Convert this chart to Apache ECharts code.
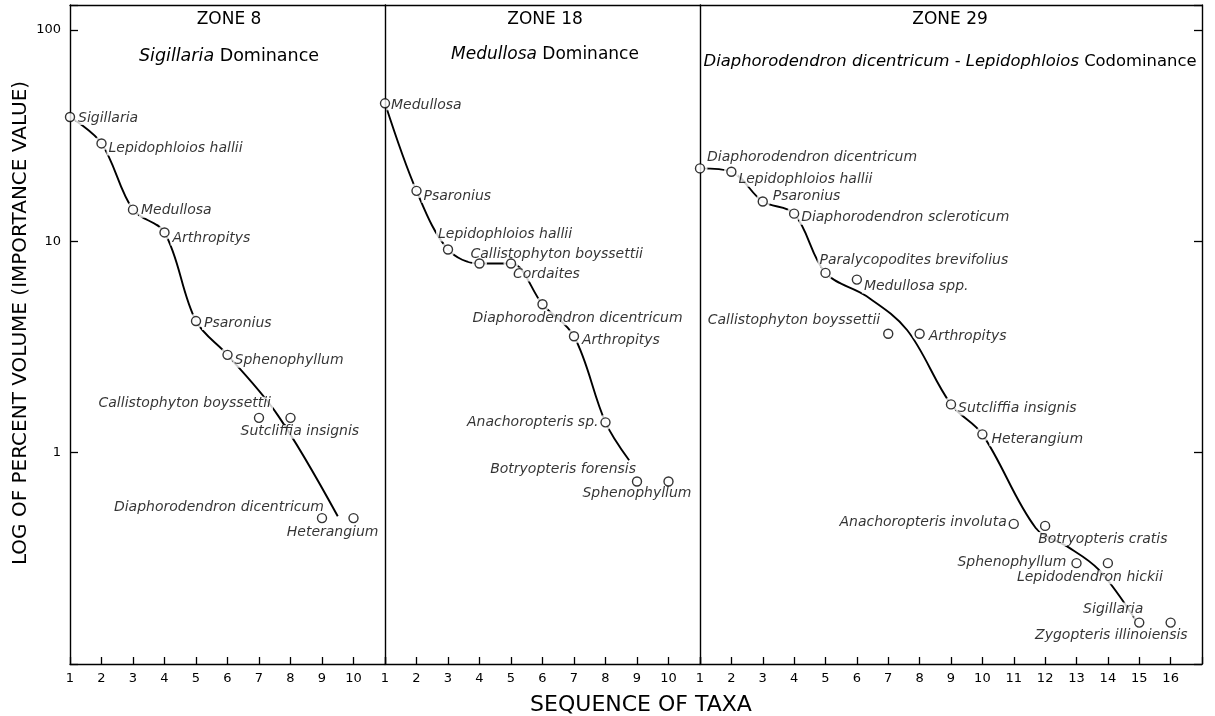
<!DOCTYPE html>
<html><head><meta charset="utf-8">
<script src="https://cdn.jsdelivr.net/npm/echarts@6/dist/echarts.min.js"></script>
<style>html,body{margin:0;padding:0;background:#fff}#c{width:1215px;height:716px}</style>
</head><body><div id="c"></div>
<script>
// ---------- data ----------
const zone8Taxa = ['Sigillaria','Lepidophloios hallii','Medullosa','Arthropitys','Psaronius','Sphenophyllum','Callistophyton boyssettii','Sutcliffia insignis','Diaphorodendron dicentricum','Heterangium'];
const zone8Values = [38.7, 29.0, 14.1, 11.0, 4.19, 2.90, 1.46, 1.46, 0.49, 0.49];

const zone18Taxa = ['Medullosa','Psaronius','Lepidophloios hallii','Callistophyton boyssettii','Cordaites','Diaphorodendron dicentricum','Arthropitys','Anachoropteris sp.','Botryopteris forensis','Sphenophyllum'];
const zone18Values = [44.9, 17.3, 9.14, 7.84, 7.84, 5.03, 3.55, 1.39, 0.73, 0.73];

const zone29Taxa = ['Diaphorodendron dicentricum','Lepidophloios hallii','Psaronius','Diaphorodendron scleroticum','Paralycopodites brevifolius','Medullosa spp.','Callistophyton boyssettii','Arthropitys','Sutcliffia insignis','Heterangium','Anachoropteris involuta','Botryopteris cratis','Sphenophyllum','Lepidodendron hickii','Sigillaria','Zygopteris illinoiensis'];
const zone29Values = [22.1, 21.3, 15.4, 13.5, 7.08, 6.58, 3.65, 3.65, 1.69, 1.22, 0.46, 0.45, 0.30, 0.30, 0.157, 0.157];

// hand-drawn trend curves
const zone8CurveX = [1, 2, 3, 4, 5, 6, 7.6, 9.5];
const zone8CurveY = [38.7, 29.0, 14.1, 11.0, 4.19, 2.90, 1.5, 0.5];
const zone18CurveX = [1, 2, 3, 4, 5, 6, 7, 8, 8.75];
const zone18CurveY = [44.9, 17.3, 9.14, 7.84, 7.84, 5.03, 3.55, 1.39, 0.92];
const zone29CurveX = [1, 2, 3, 4, 5, 6.3, 7.6, 9, 10, 11.7, 12.7, 13.7, 14.9];
const zone29CurveY = [22.1, 21.3, 15.4, 13.5, 7.08, 5.5, 3.8, 1.69, 1.22, 0.44, 0.36, 0.28, 0.16];

const yTickLabels = [1, 10, 100];
const zoneTitles = ['ZONE 8', 'ZONE 18', 'ZONE 29'];
const zoneSubtitles = [
  '{i|Sigillaria} {n|Dominance}',
  '{i|Medullosa} {n|Dominance}',
  '{i|Diaphorodendron dicentricum} {n|-} {i|Lepidophloios} {n|Codominance}'
];
const yTitle = 'LOG OF PERCENT VOLUME (IMPORTANCE VALUE)';
const xTitle = 'SEQUENCE OF TAXA';

// ---------- label placement (style only): [align, dx, dy] ----------
const zone8Place = [['left',6,1],['left',5,5],['left',6,1],['left',6,6],['left',6,2],['left',5,6],['right',14,-14],['left',-52,14],['right',4,-11],['right',27,14]];
const zone18Place = [['left',4,2],['left',5,5],['left',-12,-15],['left',-11,-9],['left',0,11],['left',-72,14],['left',6,4],['right',-5,0],['right',1,-12],['right',25,12]];
const zone29Place = [['left',5,-11],['left',5,8],['left',8,-5],['left',5,4],['left',-8,-13],['left',5,7],['right',-6,-13],['left',7,3],['left',5,4],['left',7,5],['right',-5,-2],['left',-9,13],['right',-8,-1],['left',-93,14],['right',6,-13],['right',19,13]];

const FONT = '"DejaVu Sans", sans-serif';
const zones = [
  {taxa: zone8Taxa, values: zone8Values, cx: zone8CurveX, cy: zone8CurveY, place: zone8Place, max: 11},
  {taxa: zone18Taxa, values: zone18Values, cx: zone18CurveX, cy: zone18CurveY, place: zone18Place, max: 11},
  {taxa: zone29Taxa, values: zone29Values, cx: zone29CurveX, cy: zone29CurveY, place: zone29Place, max: 17}
];
const grids = [
  {left: 70, top: 5, width: 315, height: 659},
  {left: 385, top: 5, width: 315, height: 659},
  {left: 700, top: 5, width: 502, height: 659}
];
const titleX = [229, 545, 950];
const subY = [56, 55, 62];
const subSize = [17.5, 17, 16.4];
const Y_MIN = 0.1, Y_MAX = 131;
const black = '#000';

const xAxes = [], yAxes = [], series = [];
zones.forEach((z, i) => {
  xAxes.push({
    type: 'value', gridIndex: i, min: 1, max: z.max, interval: 1, position: 'bottom', z: 4,
    axisLine: {show: true, onZero: false, lineStyle: {color: black, width: 1.4}},
    axisTick: {show: true, inside: true, length: 7, lineStyle: {color: black, width: 1.3}},
    axisLabel: {show: true, margin: 8, color: black, fontFamily: FONT, fontSize: 13,
      formatter: v => (v >= z.max ? '' : String(v))},
    splitLine: {show: false}
  });
  xAxes.push({
    type: 'value', gridIndex: i, min: 1, max: z.max, position: 'top', z: 4,
    axisLine: {show: true, onZero: false, lineStyle: {color: black, width: 1.3}},
    axisTick: {show: false}, axisLabel: {show: false}, splitLine: {show: false}
  });
  yAxes.push({
    type: 'log', logBase: 10, min: Y_MIN, max: Y_MAX, gridIndex: i, position: 'left', z: 4,
    axisLine: {show: true, onZero: false, lineStyle: {color: black, width: 1.4}},
    axisTick: {show: i === 0, inside: true, length: 8, lineStyle: {color: black, width: 1.3}},
    axisLabel: {show: i === 0, margin: 9, color: black, fontFamily: FONT, fontSize: 13,
      formatter: v => { const r = Math.round(v * 100) / 100; return yTickLabels.indexOf(r) >= 0 ? String(r) : ''; }},
    splitLine: {show: false}
  });
});
yAxes.push({
  type: 'log', logBase: 10, min: Y_MIN, max: Y_MAX, gridIndex: 2, position: 'right', z: 4,
  axisLine: {show: true, onZero: false, lineStyle: {color: black, width: 1.4}},
  axisTick: {show: true, inside: true, length: 8, lineStyle: {color: black, width: 1.3}},
  axisLabel: {show: false}, splitLine: {show: false}
});

zones.forEach((z, i) => {
  const pts = z.values.map((v, k) => [k + 1, v]);
  series.push({
    type: 'line', xAxisIndex: 2 * i, yAxisIndex: i, z: 2,
    data: z.cx.map((x, k) => [x, z.cy[k]]),
    smooth: 0.35, showSymbol: false, symbol: 'none',
    lineStyle: {color: black, width: 1.9}, silent: true
  });
  series.push({
    type: 'scatter', xAxisIndex: 2 * i, yAxisIndex: i, z: 3,
    symbol: 'circle', symbolSize: 15, itemStyle: {color: '#fff'}, silent: true,
    data: pts.map((p, k) => ({
      name: z.taxa[k], value: p,
      label: {
        show: true, position: 'inside', formatter: '{b}',
        align: z.place[k][0], verticalAlign: 'middle', offset: [z.place[k][1], z.place[k][2]],
        color: black, fontFamily: FONT, fontStyle: 'italic', fontSize: 14,
        textBorderWidth: 0, textBorderColor: 'transparent',
        backgroundColor: '#fff', padding: [0, 2]
      }
    }))
  });
  series.push({
    type: 'scatter', xAxisIndex: 2 * i, yAxisIndex: i, z: 5,
    symbol: 'circle', symbolSize: 9,
    itemStyle: {color: '#fff', borderColor: black, borderWidth: 1.4},
    data: pts
  });
});

const graphics = [];
zoneTitles.forEach((t, i) => {
  graphics.push({type: 'text', x: titleX[i], y: 20, z: 10,
    style: {text: t, fill: black, font: '17px ' + FONT, align: 'center', verticalAlign: 'middle'}});
  graphics.push({type: 'text', x: titleX[i], y: subY[i], z: 10,
    style: {text: zoneSubtitles[i], fill: black, align: 'center', verticalAlign: 'middle',
      font: subSize[i] + 'px ' + FONT,
      rich: {
        i: {fontFamily: FONT, fontSize: subSize[i], fontStyle: 'italic', fill: black},
        n: {fontFamily: FONT, fontSize: subSize[i], fill: black}
      }}});
});
graphics.push({type: 'text', x: 21, y: 323, rotation: Math.PI / 2, z: 10,
  style: {text: yTitle, fill: black, font: '20px ' + FONT, align: 'center', verticalAlign: 'middle'}});
graphics.push({type: 'text', x: 641, y: 705, z: 10,
  style: {text: xTitle, fill: black, font: '22px ' + FONT, align: 'center', verticalAlign: 'middle'}});

const chart = echarts.init(document.getElementById('c'));
chart.setOption({
  animation: false,
  backgroundColor: '#fff',
  grid: grids,
  xAxis: xAxes,
  yAxis: yAxes,
  series: series,
  graphic: graphics
});
</script>
</body></html>
